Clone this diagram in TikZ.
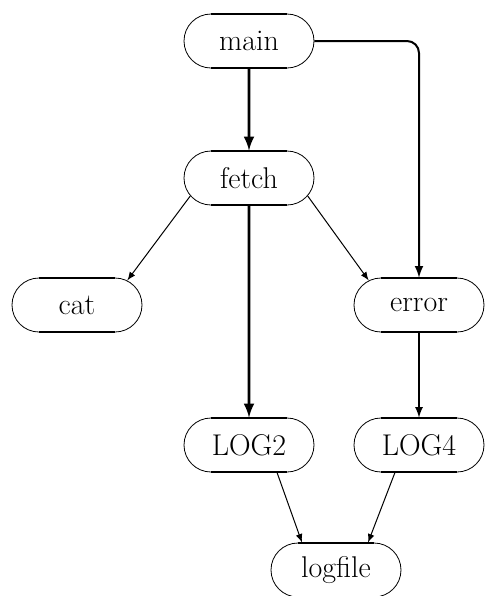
\documentclass[tikz,border=0pt]{standalone}
\usepackage{tikz}
\usetikzlibrary{shapes.misc}

\begin{document}
\begin{tikzpicture}[x=0.5pt,y=-0.5pt,>=latex,
    proc/.style={draw,rounded rectangle,minimum width=65pt,minimum height=27pt,
        inner sep=0pt,font=\fontsize{15}{18}\selectfont},
    call/.style={->,line width=0.5pt},
    heavy/.style={->,line width=1.4pt}]
\useasboundingbox (0,0) rectangle (484,596);

\node[proc] (main) at (249,41) {main};
\node[proc] (fetch) at (249,178) {fetch};
\node[proc] (cat) at (77,305) {cat};
\node[proc] (error) at (419,305) {error};
\node[proc] (log2) at (249,445) {LOG2};
\node[proc] (log4) at (419,445) {LOG4};
\node[proc] (logfile) at (336,570) {logfile};

% heavier straight sides of the boxes
\foreach \n in {main,fetch,cat,error,log2,log4,logfile}{
    \draw[line width=1pt] ([xshift=-19pt]\n.north) -- ([xshift=19pt]\n.north);
    \draw[line width=1pt] ([xshift=-19pt]\n.south) -- ([xshift=19pt]\n.south);
}

\draw[heavy] (main) -- (fetch);
\draw[heavy] (fetch) -- (log2);
\draw[->,line width=1pt,rounded corners=6pt] (main.east) -| (error.north);
\draw[call] (fetch.197) -- (cat.26);
\draw[call] (fetch.-17) -- (error.154);
\draw[->,line width=0.8pt] (error) -- (log4);
\draw[call] ([xshift=14pt]log2.south) -- ([xshift=-17pt]logfile.north);
\draw[call] ([xshift=-12pt]log4.south) -- ([xshift=16pt]logfile.north);
\end{tikzpicture}
\end{document}
